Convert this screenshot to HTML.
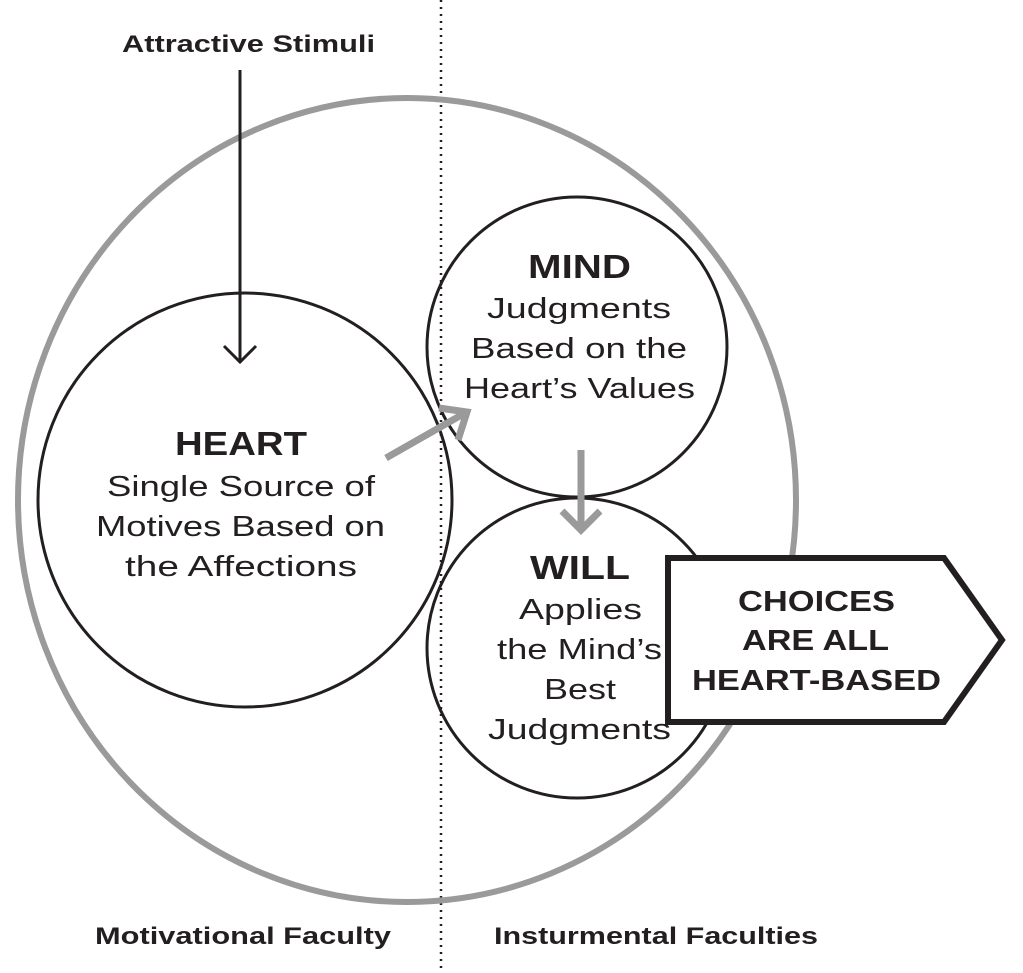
<!DOCTYPE html>
<html><head><style>
html,body{margin:0;padding:0;background:#fff;}
svg{display:block;}
text{font-family:"Liberation Sans",sans-serif;fill:#231f20;}
</style></head><body>
<svg width="1023" height="973" viewBox="0 0 1023 973">
<rect width="1023" height="973" fill="#fff"/>
<line x1="441" y1="0" x2="441" y2="968" stroke="#231f20" stroke-width="2.5" stroke-dasharray="2 5"/>
<ellipse cx="407" cy="500" rx="389" ry="402" fill="none" stroke="#9a9a9a" stroke-width="6"/>
<circle cx="245" cy="500" r="207" fill="none" stroke="#231f20" stroke-width="3"/>
<circle cx="577" cy="347" r="150" fill="none" stroke="#231f20" stroke-width="3"/>
<circle cx="577" cy="648" r="150" fill="none" stroke="#231f20" stroke-width="3"/>
<line x1="240" y1="70" x2="240" y2="362" stroke="#231f20" stroke-width="3"/>
<polyline points="224,346 240,362 256,346" fill="none" stroke="#231f20" stroke-width="3"/>
<line x1="386" y1="458" x2="465" y2="413" stroke="#9a9a9a" stroke-width="7"/>
<polyline points="439,408 467,412 458,440" fill="none" stroke="#9a9a9a" stroke-width="7"/>
<line x1="581" y1="450" x2="581" y2="530" stroke="#9a9a9a" stroke-width="7"/>
<polyline points="562,511 581,530 600,511" fill="none" stroke="#9a9a9a" stroke-width="7"/>
<polygon points="668,558 944,558 1002,640 944,722 668,722" fill="#fff" stroke="#231f20" stroke-width="6"/>
<g lengthAdjust="spacingAndGlyphs">
<text x="122" y="52" font-size="24" font-weight="bold" textLength="253" lengthAdjust="spacingAndGlyphs">Attractive Stimuli</text>
<text x="175" y="455" font-size="33" font-weight="bold" textLength="132" lengthAdjust="spacingAndGlyphs">HEART</text>
<text x="107" y="496" font-size="29" textLength="268" lengthAdjust="spacingAndGlyphs">Single Source of</text>
<text x="96" y="536" font-size="29" textLength="289" lengthAdjust="spacingAndGlyphs">Motives Based on</text>
<text x="125" y="576" font-size="29" textLength="232" lengthAdjust="spacingAndGlyphs">the Affections</text>
<text x="528" y="278" font-size="33" font-weight="bold" textLength="103" lengthAdjust="spacingAndGlyphs">MIND</text>
<text x="487" y="318" font-size="29" textLength="184" lengthAdjust="spacingAndGlyphs">Judgments</text>
<text x="471" y="358" font-size="29" textLength="216" lengthAdjust="spacingAndGlyphs">Based on the</text>
<text x="464" y="398" font-size="29" textLength="231" lengthAdjust="spacingAndGlyphs">Heart’s Values</text>
<text x="530" y="579" font-size="33" font-weight="bold" textLength="100" lengthAdjust="spacingAndGlyphs">WILL</text>
<text x="519" y="619" font-size="29" textLength="123" lengthAdjust="spacingAndGlyphs">Applies</text>
<text x="497" y="659" font-size="29" textLength="165" lengthAdjust="spacingAndGlyphs">the Mind’s</text>
<text x="544" y="699" font-size="29" textLength="72" lengthAdjust="spacingAndGlyphs">Best</text>
<text x="488" y="739" font-size="29" textLength="183" lengthAdjust="spacingAndGlyphs">Judgments</text>
<text x="738" y="611" font-size="29" font-weight="bold" textLength="157" lengthAdjust="spacingAndGlyphs">CHOICES</text>
<text x="742" y="650" font-size="29" font-weight="bold" textLength="147" lengthAdjust="spacingAndGlyphs">ARE ALL</text>
<text x="692" y="690" font-size="29" font-weight="bold" textLength="249" lengthAdjust="spacingAndGlyphs">HEART-BASED</text>
<text x="95" y="944" font-size="24" font-weight="bold" textLength="296" lengthAdjust="spacingAndGlyphs">Motivational Faculty</text>
<text x="494" y="944" font-size="24" font-weight="bold" textLength="324" lengthAdjust="spacingAndGlyphs">Insturmental Faculties</text>
</g>
</svg>
</body></html>
